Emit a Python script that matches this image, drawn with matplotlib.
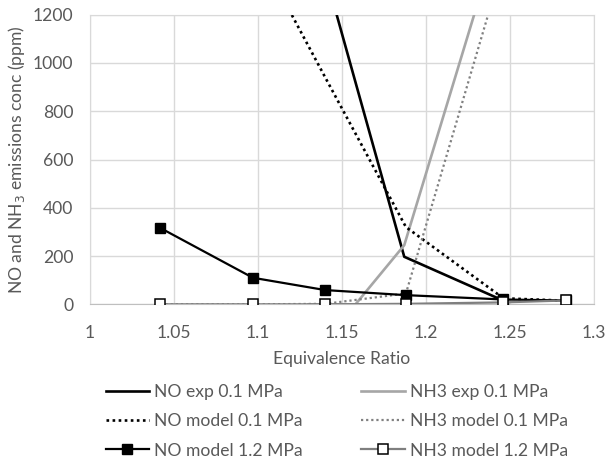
import matplotlib
matplotlib.use("Agg")
import matplotlib.pyplot as plt

plt.rcParams['font.family'] = ['Lato', 'DejaVu Sans']

# Data
phi_exp = [1.13, 1.158, 1.187, 1.246]
no_exp = [1620, 920, 197, 15]
nh3_exp = [0, 0, 245, 1600]

phi_model = [1.042, 1.097, 1.14, 1.188, 1.246, 1.283]
no_model_01 = [2600, 1500, 940, 320, 25, 15]
nh3_model_01 = [0, 0, 2, 45, 1415, 2600]
no_model_12 = [316, 110, 59, 38, 20, 16]
nh3_model_12 = [0, 0, 0, 2, 8, 16]

xticks = [1, 1.05, 1.1, 1.15, 1.2, 1.25, 1.3]
xticklabels = ['1', '1.05', '1.1', '1.15', '1.2', '1.25', '1.3']
yticks = [0, 200, 400, 600, 800, 1000, 1200]

txt = '#595959'
grid = '#d9d9d9'
fs = 12.6

fig = plt.figure(figsize=(6.07, 4.59), dpi=100)
ax = fig.add_axes([0.148, 0.337, 0.831, 0.631])

dot = (0, (1, 1.3))
l1, = ax.plot(phi_exp, no_exp, color='black', lw=1.9, label='NO exp 0.1 MPa', zorder=3)
l2, = ax.plot(phi_exp, nh3_exp, color='#a6a6a6', lw=1.9, label='NH3 exp 0.1 MPa', zorder=3)
l3, = ax.plot(phi_model, no_model_01, color='black', lw=1.9, ls=dot, label='NO model 0.1 MPa', zorder=3)
l4, = ax.plot(phi_model, nh3_model_01, color='#808080', lw=1.6, ls=dot, label='NH3 model 0.1 MPa', zorder=3)
l5, = ax.plot(phi_model, no_model_12, color='black', lw=1.6, marker='s', ms=7.5,
              mfc='black', mec='black', label='NO model 1.2 MPa', zorder=4)
l6, = ax.plot(phi_model, nh3_model_12, color='#7f7f7f', lw=1.6, marker='s', ms=7.5,
              mfc='white', mec='black', mew=1.1, label='NH3 model 1.2 MPa', zorder=5)

ax.set_xlim(1, 1.3)
ax.set_ylim(0, 1200)
ax.set_xticks(xticks)
ax.set_xticklabels(xticklabels)
ax.set_yticks(yticks)
ax.grid(True, color=grid, lw=1)
ax.set_axisbelow(True)
for s in ax.spines.values():
    s.set_color(grid)
ax.spines['bottom'].set_color('#bfbfbf')
ax.tick_params(length=0, labelsize=fs, colors=txt)
ax.tick_params(axis='x', pad=15)
ax.tick_params(axis='y', pad=12)
ax.set_xlabel('Equivalence Ratio', fontsize=fs, color=txt, labelpad=7)
ax.set_ylabel('NO and NH$_3$ emissions conc (ppm)', fontsize=fs, color=txt, labelpad=4)

leg = fig.legend(handles=[l1, l3, l5, l2, l4, l6], ncol=2, loc='upper center',
                 bbox_to_anchor=(0.555, 0.197), frameon=False, fontsize=fs,
                 handlelength=2.5, handletextpad=0.28, columnspacing=3.35,
                 labelspacing=0.75, labelcolor=txt)

fig.savefig('out.png', dpi=100)
